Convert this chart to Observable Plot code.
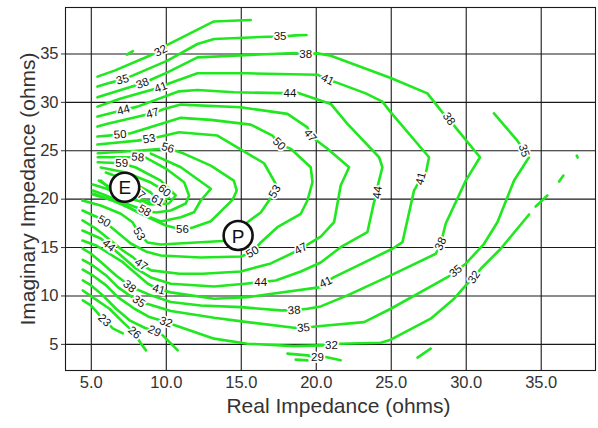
<!DOCTYPE html>
<html>
<head>
<meta charset="utf-8">
<script src="https://cdn.jsdelivr.net/npm/d3@7"></script>
<script src="https://cdn.jsdelivr.net/npm/@observablehq/plot@0.6"></script>
<style>
  body { margin: 0; background: #fff; }
  #chart { width: 598px; height: 428px; }
</style>
</head>
<body>
<div id="chart"></div>
<script>
// Axis ticks and titles
const xTicks = [5, 10, 15, 20, 25, 30, 35];
const yTicks = [5, 10, 15, 20, 25, 30, 35];
const xTitle = "Real Impedance (ohms)";
const yTitle = "Imaginary Impedance (ohms)";

// Contour polylines, [real, imaginary] in ohms
const c23 = [[4.43,9.54],[4.97,9.02],[5.57,7.99],[6.43,6.65],[7.10,6.13]];
const c26 = [[4.43,10.57],[5.10,9.85],[6.21,8.68],[7.21,7.14],[7.88,6.21],[8.30,5.10],[8.65,4.38]];
const c26b = [[18.63,3.42],[19.41,3.35]];
const c29 = [[4.43,11.60],[4.99,11.09],[5.77,10.06],[6.65,8.68],[7.55,7.48],[8.55,6.72],[9.21,6.37],[9.77,5.93],[10.77,4.38]];
const c29b = [[18.08,4.04],[19.41,3.86],[20.08,3.69],[20.63,3.69],[21.63,3.35]];
const c29c = [[26.75,3.63],[27.63,4.56]];
const c29d = [[7.37,34.93],[7.77,35.29]];
const c32top = [[5.41,32.66],[6.55,33.28],[8.88,34.82],[9.63,35.34],[9.97,35.86],[13.17,38.36],[15.63,38.51]];
const c32 = [[4.43,12.71],[5.10,12.12],[5.99,11.09],[6.77,9.88],[7.88,8.68],[8.88,7.82],[9.99,7.30],[10.43,7.06],[13.19,5.59],[15.41,5.07],[18.52,4.82],[20.30,4.90],[21.01,4.90],[21.52,5.07],[24.30,5.17],[24.97,5.48],[27.63,7.65],[29.19,9.72],[29.97,11.09],[30.52,11.94],[30.97,12.81],[32.30,14.88],[34.19,18.42]];
const c32b = [[34.63,19.24],[35.41,20.38]];
const c32c = [[36.19,21.82],[36.48,22.44]];
const c32d = [[37.37,24.50],[37.43,24.30]];
const c35top = [[5.41,31.63],[6.30,32.04],[7.08,32.35],[7.75,32.76],[10.08,34.31],[12.08,36.03],[13.19,36.55],[16.75,36.78],[17.59,36.78],[18.63,36.92],[19.35,36.96]];
const c35 = [[4.43,13.74],[5.10,13.15],[5.99,12.12],[6.77,10.91],[7.55,10.06],[8.17,9.44],[8.88,9.13],[10.30,8.44],[13.19,7.75],[15.41,7.30],[18.52,6.72],[19.15,6.72],[20.30,6.89],[23.19,7.30],[24.97,8.68],[28.75,11.94],[29.30,12.56],[29.97,13.33],[31.19,15.39],[32.08,17.62],[33.19,21.92],[34.19,24.33],[33.85,25.02],[33.41,26.05],[31.85,28.87]];
const c38 = [[4.43,14.88],[4.99,14.36],[5.77,13.33],[6.65,12.12],[7.32,11.33],[7.55,10.99],[8.21,10.57],[8.99,10.06],[10.30,9.37],[12.30,9.02],[14.97,8.85],[17.63,8.51],[18.52,8.51],[19.41,8.68],[20.30,8.92],[22.08,10.06],[24.97,12.12],[27.97,14.36],[28.30,15.39],[28.63,17.46],[29.97,21.92],[30.92,24.33],[29.19,27.60],[28.85,28.29],[28.41,28.97],[27.41,30.93],[24.97,32.52],[20.97,34.82],[20.08,35.06],[19.30,35.00],[18.52,35.10],[12.08,34.65],[10.08,33.10],[9.08,32.42],[8.41,31.97],[5.41,30.52]];
const c41 = [[4.41,15.73],[5.32,15.22],[6.21,14.36],[7.10,13.49],[7.99,12.29],[8.77,11.26],[9.50,10.68],[10.30,10.37],[13.19,9.72],[15.41,9.88],[20.30,10.91],[20.63,11.43],[21.19,11.94],[25.08,14.88],[25.75,15.56],[26.52,20.89],[26.97,22.13],[27.30,22.62],[27.52,24.33],[24.97,28.97],[24.41,30.08],[23.30,30.93],[21.19,32.14],[20.75,32.35],[20.08,32.86],[15.41,33.00],[12.08,33.00],[10.08,31.90],[9.63,31.55],[6.97,30.39],[5.41,29.56]];
const c44 = [[4.41,16.76],[5.63,15.94],[6.17,15.22],[6.83,14.39],[7.97,12.84],[8.97,11.91],[10.30,11.26],[13.19,10.98],[15.43,11.29],[16.30,11.43],[17.30,11.60],[18.97,12.53],[20.30,13.46],[21.63,15.04],[23.41,16.59],[23.85,19.68],[24.08,20.69],[24.08,21.24],[24.41,23.30],[24.19,24.33],[22.08,27.78],[20.97,29.84],[18.75,31.00],[18.25,30.95],[17.63,30.95],[14.52,31.04],[12.08,31.28],[10.85,31.14],[8.08,29.56],[7.15,29.22],[5.41,28.53]];
const c47 = [[4.41,17.80],[5.30,16.97],[6.43,15.56],[7.10,14.70],[7.77,14.01],[8.32,13.26],[8.99,12.64],[10.88,12.29],[12.43,12.29],[14.97,12.53],[16.97,13.36],[18.50,14.49],[18.97,14.88],[20.30,16.14],[21.19,17.62],[21.63,21.41],[22.19,23.30],[20.75,25.20],[19.59,26.57],[19.41,27.42],[18.08,28.81],[14.97,29.49],[10.97,29.77],[9.85,29.32],[9.08,28.87],[6.08,27.78],[5.41,27.50]];
const c50 = [[4.41,18.83],[5.30,18.21],[5.85,17.72],[6.43,16.97],[7.63,15.42],[8.63,14.60],[9.63,14.18],[12.30,13.98],[14.97,14.08],[15.75,14.53],[16.30,15.53],[17.41,17.10],[18.97,18.49],[19.41,19.86],[19.75,21.75],[19.63,23.30],[18.30,25.20],[17.52,25.71],[17.08,26.57],[15.63,27.70],[12.97,28.19],[10.97,28.40],[7.63,26.81],[6.92,26.67],[5.41,26.47]];
const c53 = [[4.41,19.86],[5.63,19.34],[6.97,18.49],[7.75,17.62],[8.19,16.42],[8.75,15.53],[9.63,15.32],[13.75,15.68],[14.77,16.35],[15.41,17.62],[16.30,18.62],[16.85,19.86],[17.23,20.79],[17.30,21.58],[16.52,23.71],[13.41,26.57],[10.85,26.91],[9.41,26.39],[8.85,26.23],[8.08,26.05],[5.41,25.64]];
const c56 = [[5.43,24.74],[8.30,25.02],[10.10,25.25],[11.17,24.71],[12.97,23.47],[14.50,21.92],[14.70,20.89],[14.43,19.96],[12.97,17.72],[11.77,17.07],[11.08,16.84],[9.97,17.28],[8.97,18.00],[7.63,19.03],[6.30,19.96],[5.10,20.48]];
const c57 = [[8.97,24.70],[10.97,23.30],[12.97,21.07],[12.30,19.86],[11.85,18.65],[10.97,18.14],[9.63,17.69],[8.30,18.52],[6.97,19.55],[5.63,20.27],[5.10,20.58]];
const c58 = [[5.43,24.33],[8.10,24.33],[8.63,24.30],[9.97,23.16],[11.19,21.75],[11.52,20.38],[11.30,19.55],[10.30,18.83],[9.30,18.62],[8.55,18.83],[7.30,19.55],[5.97,20.38],[5.10,20.89]];
const c59 = [[5.43,23.81],[7.03,23.71],[7.97,23.27],[9.63,21.92],[10.63,20.38],[10.17,19.55],[8.97,19.45],[7.63,20.07],[5.97,21.10],[5.10,21.51]];
const c60 = [[5.63,23.27],[7.30,22.75],[8.97,21.72],[9.88,20.89],[10.17,20.17],[9.63,19.65],[8.30,19.96],[6.63,20.89],[5.50,21.92]];
const c61 = [[5.97,22.75],[7.63,21.82],[8.97,20.69],[9.43,19.86],[8.83,19.55],[7.63,20.07],[6.30,21.00],[5.63,21.92]];

const contours = [
  {level: 23, pts: c23}, {level: 26, pts: c26}, {level: 26, pts: c26b},
  {level: 29, pts: c29}, {level: 29, pts: c29b}, {level: 29, pts: c29c}, {level: 29, pts: c29d},
  {level: 32, pts: c32top}, {level: 32, pts: c32}, {level: 32, pts: c32b}, {level: 32, pts: c32c}, {level: 32, pts: c32d},
  {level: 35, pts: c35top}, {level: 35, pts: c35},
  {level: 38, pts: c38}, {level: 41, pts: c41}, {level: 44, pts: c44}, {level: 47, pts: c47},
  {level: 50, pts: c50}, {level: 53, pts: c53}, {level: 56, pts: c56}, {level: 57, pts: c57},
  {level: 58, pts: c58}, {level: 59, pts: c59}, {level: 60, pts: c60}, {level: 61, pts: c61}
];

// Inline contour labels: [level, real, imaginary, angle]
const contourLabels = [
  [23, 5.88, 7.48, 45], [26, 7.88, 6.21, 40],
  [29, 9.21, 6.37, 25], [29, 20.08, 3.69, 0],
  [32, 9.63, 35.34, -28], [32, 9.99, 7.30, 20], [32, 21.01, 4.90, 0], [32, 30.52, 11.94, -55],
  [35, 7.08, 32.35, -15], [35, 17.59, 36.78, 0], [35, 8.17, 9.44, 35], [35, 19.15, 6.72, -5], [35, 29.30, 12.56, -40], [35, 33.85, 25.02, 72],
  [38, 8.41, 31.97, -20], [38, 19.30, 35.00, 0], [38, 28.85, 28.29, 55], [38, 28.30, 15.39, -65], [38, 18.52, 8.51, -5], [38, 7.55, 10.99, 40],
  [41, 9.63, 31.55, -20], [41, 20.75, 32.35, 25], [41, 26.97, 22.13, -75], [41, 20.63, 11.43, -25], [41, 9.50, 10.68, 15],
  [44, 7.15, 29.22, -15], [44, 18.25, 30.90, 0], [44, 24.08, 20.69, -82], [44, 16.30, 11.43, 0], [44, 6.17, 15.22, 40],
  [47, 9.08, 28.87, -15], [47, 19.59, 26.57, 50], [47, 18.97, 14.88, -30], [47, 8.32, 13.26, 35],
  [50, 6.92, 26.67, -5], [50, 17.52, 25.71, 45], [50, 15.75, 14.53, -30], [50, 5.85, 17.72, 30],
  [53, 8.85, 26.23, -10], [53, 17.23, 20.79, -60], [53, 8.19, 16.42, 60],
  [56, 10.10, 25.30, 15], [56, 11.08, 16.84, 0],
  [57, 8.17, 20.61, 40],
  [58, 8.10, 24.33, 5], [58, 8.55, 18.83, 30],
  [59, 7.03, 23.71, 0], [60, 9.88, 20.89, 40], [61, 9.43, 19.86, 30]
];

// Marked impedance points
const markerNames = ["E", "P"];
const markerX = [7.23, 14.79];
const markerY = [21.23, 16.25];

const lineRows = contours.flatMap((c, i) => c.pts.map(([x, y]) => ({x, y, id: i, level: c.level})));
const labelRows = contourLabels.map(([level, x, y, angle]) => ({level, x, y, angle}));
const markers = markerNames.map((name, i) => ({name, x: markerX[i], y: markerY[i]}));

const chart = Plot.plot({
  width: 598,
  height: 428,
  marginLeft: 65,
  marginRight: 3,
  marginTop: 7,
  marginBottom: 58,
  style: {fontFamily: "'Liberation Sans', Arial, sans-serif", fontSize: "16px", color: "#333", background: "#fff"},
  x: {domain: [3.28, 38.62]},
  y: {domain: [2.3, 39.8]},
  marks: [
    Plot.gridX(xTicks, {stroke: "#1a1a1a", strokeOpacity: 1, strokeWidth: 1.1}),
    Plot.gridY(yTicks, {stroke: "#1a1a1a", strokeOpacity: 1, strokeWidth: 1.1}),
    Plot.line(lineRows, {x: "x", y: "y", z: "id", stroke: "#1fe81f", strokeWidth: 2.6, strokeLinejoin: "round", curve: "linear"}),
    Plot.text(labelRows, {x: "x", y: "y", text: "level", rotate: "angle", fontSize: 11.5, fill: "#111", stroke: "white", strokeWidth: 3.5}),
    Plot.dot(markers, {x: "x", y: "y", r: 14.5, fill: "white", stroke: "#111", strokeWidth: 2.6}),
    Plot.text(markers, {x: "x", y: "y", text: "name", fontSize: 19, fill: "#111", dy: 1}),
    Plot.frame({stroke: "#1a1a1a", strokeWidth: 1.1}),
    Plot.axisX(xTicks, {tickFormat: d => d.toFixed(1), tickSize: 0, tickPadding: 6, label: null, fill: "#333", fontSize: 16.5}),
    Plot.axisY(yTicks, {tickSize: 4, tickPadding: 3, label: null, fill: "#333", fontSize: 16.5}),
    Plot.text([xTitle], {frameAnchor: "bottom", dy: 42, dx: 8, fontSize: 21, fill: "#333"}),
    Plot.text([yTitle], {frameAnchor: "left", textAnchor: "middle", dx: -37, rotate: -90, fontSize: 21, fill: "#333"})
  ]
});
document.getElementById("chart").appendChild(chart);
</script>
</body>
</html>
